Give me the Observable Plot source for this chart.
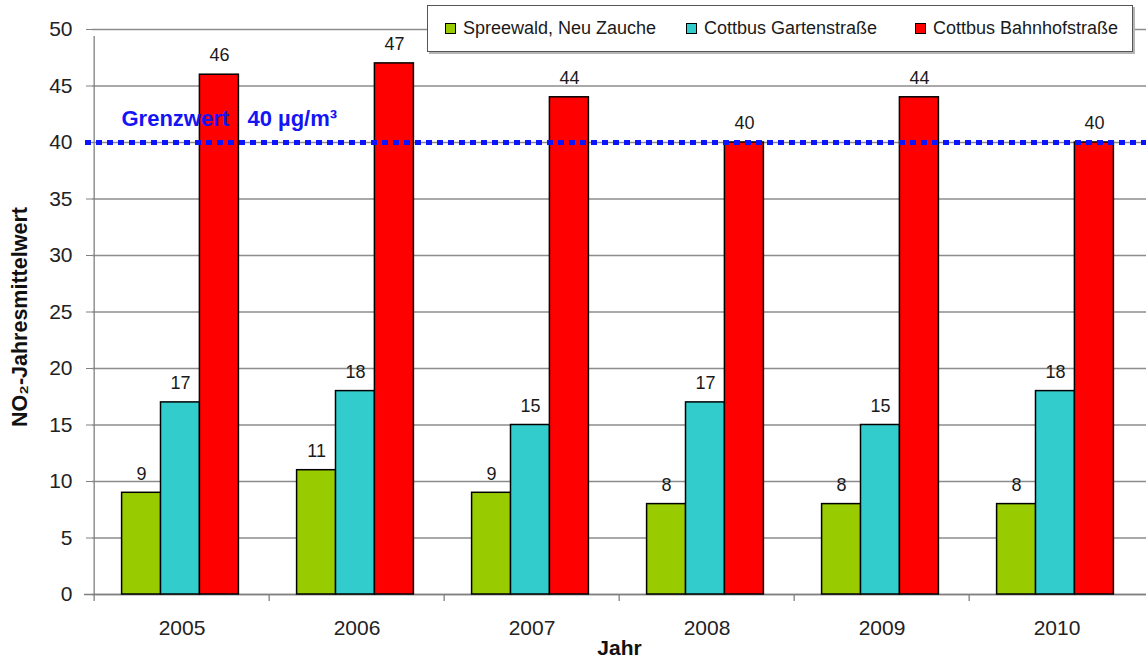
<!DOCTYPE html>
<html>
<head>
<meta charset="utf-8">
<script src="https://cdn.jsdelivr.net/npm/d3@7"></script>
<script src="https://cdn.jsdelivr.net/npm/@observablehq/plot@0.6"></script>
<style>
  body { margin: 0; background: #fff; font-family: "Liberation Sans", Arial, sans-serif; }
  #chart { position: relative; width: 1146px; height: 661px; overflow: hidden; }
  #legend {
    position: absolute; left: 427px; top: 5px; width: 706px; height: 47px;
    box-sizing: border-box; border: 1px solid #555; background: #fff;
    box-shadow: 2px 2px 0 #b5b5b5;
    font-size: 18px; color: #1a1a1a;
  }
  #legend .item {
    position: absolute; top: 0; height: 45px;
    display: flex; align-items: center; white-space: nowrap;
  }
  #legend .sw { width: 9px; height: 9px; border: 1px solid #000; margin-right: 7px; flex-shrink: 0; }
</style>
</head>
<body>
<div id="chart"></div>
<script>
// NO2 annual means per station (µg/m³)
const years = ["2005", "2006", "2007", "2008", "2009", "2010"];
const seriesNames = ["Spreewald, Neu Zauche", "Cottbus Gartenstraße", "Cottbus Bahnhofstraße"];
const spreewald = [9, 11, 9, 8, 8, 8];
const gartenstrasse = [17, 18, 15, 17, 15, 18];
const bahnhofstrasse = [46, 47, 44, 40, 44, 40];
const seriesColors = ["#99cc00", "#33cccc", "#ff0000"];
const yTicks = [0, 5, 10, 15, 20, 25, 30, 35, 40, 45, 50];
const limitValue = 40;
const limitLabel = "Grenzwert\u00a0\u00a0 40 µg/m³";
const xTitle = "Jahr";
const yTitle = "NO₂-Jahresmittelwert";

const seriesValues = [spreewald, gartenstrasse, bahnhofstrasse];

// layout
const W = 1146, H = 661;
const mLeft = 92, mRight = 0, mTop = 29, mBottom = 67;
const step = (W - mLeft - mRight) / years.length;
const barW = 38.9;
const groupShift = -1.5;
const padInner = 1 - barW / step;
const legendItemLeft = [17, 258, 487];

const rowsFor = (j) => years.map((year, i) => ({year, series: seriesNames[j], value: seriesValues[j][i]}));

const barMarks = seriesNames.flatMap((name, j) => [
  Plot.barY(rowsFor(j), {
    x: "year", y: "value", fill: seriesColors[j],
    stroke: "#000", strokeWidth: 1.5, dx: (j - 1) * barW + groupShift
  }),
  Plot.text(rowsFor(j), {
    x: "year", y: "value", text: (d) => String(d.value),
    dx: (j - 1) * barW + groupShift, dy: -19, fontSize: 18, fill: "#1a1a1a"
  })
]);

const chart = Plot.plot({
  width: W, height: H,
  marginLeft: mLeft, marginRight: mRight, marginTop: mTop, marginBottom: mBottom,
  style: {fontFamily: "'Liberation Sans', Arial, sans-serif", background: "#fff"},
  x: {domain: years, paddingInner: padInner, paddingOuter: padInner / 2, align: 0.5},
  y: {domain: [0, 50]},
  marks: [
    Plot.gridY(yTicks, {stroke: "#8c8c8c", strokeOpacity: 1, strokeWidth: 1.3}),
    // category boundary ticks below the baseline
    Plot.ruleX(years, {x: (d) => d, y1: 0, y2: 0, dx: -step / 2, insetBottom: -7, stroke: "#808080", strokeWidth: 1.3}),
    // vertical axis line
    Plot.ruleX([years[0]], {x: (d) => d, y1: 0, y2: 50, dx: -step / 2, insetBottom: -7, stroke: "#808080", strokeWidth: 1.3}),
    Plot.ruleY([0], {stroke: "#808080", strokeWidth: 1.5, insetLeft: -8}),
    Plot.axisY({ticks: yTicks, tickSize: 6, tickPadding: 14, fontSize: 21, fill: "#222", stroke: "#808080", label: null}),
    Plot.axisX({tickSize: 0, tickPadding: 26, fontSize: 21, fill: "#222", label: null}),
    ...barMarks,
    Plot.ruleY([limitValue], {stroke: "#0a14ff", strokeWidth: 5, strokeDasharray: "6,5", insetLeft: -7}),
    Plot.text([{value: limitValue, label: limitLabel}], {
      y: "value", text: "label", frameAnchor: "left", textAnchor: "start",
      dx: 29, dy: -24, fill: "#1414f5", fontWeight: "bold", fontSize: 22
    }),
    Plot.text([xTitle], {frameAnchor: "bottom", dy: 60, fontWeight: "bold", fontSize: 21, fill: "#111"}),
    Plot.text([yTitle], {
      frameAnchor: "left", textAnchor: "middle", rotate: -90, dx: -72, dy: 5,
      fontWeight: "bold", fontSize: 21.5, fill: "#111"
    })
  ]
});

const container = document.getElementById("chart");
container.appendChild(chart);

// legend box overlapping the top of the plot area
const legend = document.createElement("div");
legend.id = "legend";
seriesNames.forEach((name, j) => {
  const item = document.createElement("div");
  item.className = "item";
  item.style.left = legendItemLeft[j] + "px";
  const sw = document.createElement("span");
  sw.className = "sw";
  sw.style.background = seriesColors[j];
  const label = document.createElement("span");
  label.textContent = name;
  item.append(sw, label);
  legend.appendChild(item);
});
container.appendChild(legend);
</script>
</body>
</html>
